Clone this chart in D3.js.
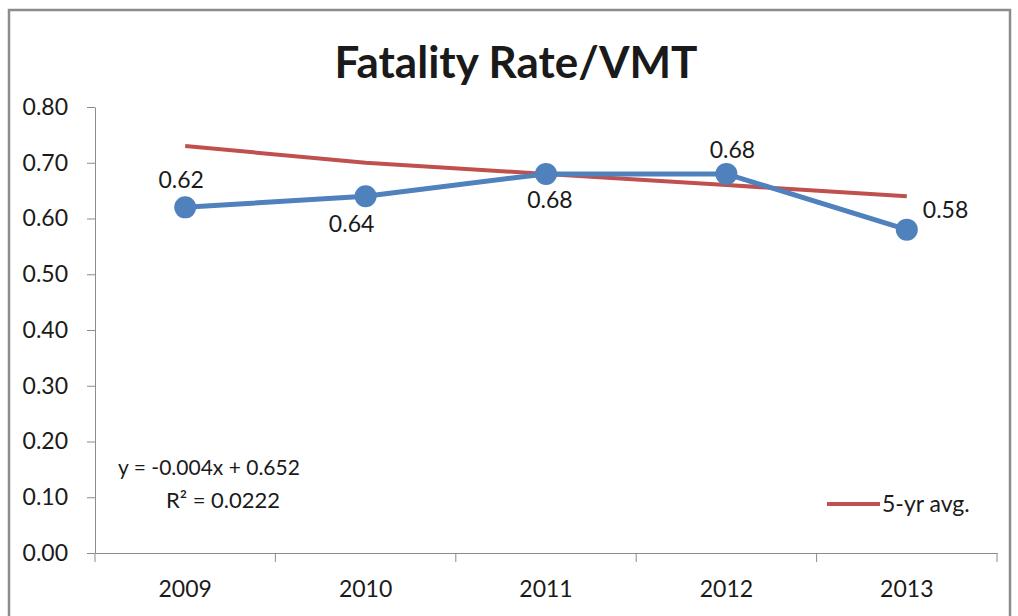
<!DOCTYPE html>
<html>
<head>
<meta charset="utf-8">
<script src="https://cdn.jsdelivr.net/npm/d3@7"></script>
<style>
  body { margin: 0; background: #fff; }
  svg text { font-family: Lato, "Open Sans", sans-serif; fill: #1a1a1a; }
</style>
</head>
<body>
<svg id="chart"></svg>
<script>
const years = ['2009', '2010', '2011', '2012', '2013']
const fatalityRate = [0.62, 0.64, 0.68, 0.68, 0.58]
const fiveYearAvg = [0.73, 0.70, 0.68, 0.66, 0.64]
const yTicks = [0, 0.1, 0.2, 0.3, 0.4, 0.5, 0.6, 0.7, 0.8]
// where each data label sits relative to its point
const labelPos = ['above', 'below', 'below', 'above', 'right']
const labelNudge = [[-4, -19], [-14, 36], [4, 34], [6, -16], [16, -12]]

const width = 1018
const height = 616
const margin = { top: 107, right: 21, bottom: 63, left: 95 }
const fontSize = '23px'

const svg = d3.select('#chart').attr('width', width).attr('height', height)

// outer chart border
svg.append('rect')
  .attr('x', 9).attr('y', 10)
  .attr('width', 1001).attr('height', 620)
  .attr('fill', 'none')
  .attr('stroke', '#8c8c8c')
  .attr('stroke-width', 2.5)

svg.append('text')
  .attr('x', 516).attr('y', 78)
  .attr('text-anchor', 'middle')
  .style('font-size', '44px')
  .style('font-weight', 'bold')
  .text('Fatality Rate/VMT')

const x = d3.scaleBand()
  .domain(years)
  .range([margin.left, width - margin.right])

const y = d3.scaleLinear()
  .domain([0, 0.8])
  .range([height - margin.bottom, margin.top])

const cx = d => x(d) + x.bandwidth() / 2

// Y axis
const yAxis = svg.append('g')
  .attr('transform', `translate(${margin.left},0)`)
  .call(d3.axisLeft(y).tickValues(yTicks).tickFormat(d3.format('.2f')).tickSize(8).tickSizeOuter(0))
yAxis.select('.domain').attr('stroke', '#8c8c8c')
yAxis.selectAll('.tick line').attr('stroke', '#8c8c8c')
yAxis.selectAll('.tick text')
  .attr('x', -27)
  .style('font-size', fontSize)
  .attr('fill', '#1a1a1a')

// X axis
const xAxis = svg.append('g')
  .attr('transform', `translate(0,${height - margin.bottom})`)
  .call(d3.axisBottom(x).tickSize(0).tickSizeOuter(0))
xAxis.select('.domain').attr('stroke', '#8c8c8c')
xAxis.selectAll('.tick text')
  .attr('y', 28)
  .style('font-size', fontSize)
  .attr('fill', '#1a1a1a')

// tick marks at category boundaries
const edges = years.map(d => x(d)).concat([width - margin.right])
svg.append('g')
  .selectAll('line')
  .data(edges)
  .enter().append('line')
  .attr('x1', d => d).attr('x2', d => d)
  .attr('y1', height - margin.bottom)
  .attr('y2', height - margin.bottom + 9)
  .attr('stroke', '#8c8c8c')

const line = d3.line()
  .x((d, i) => cx(years[i]))
  .y(d => y(d))

// 5-yr average
svg.append('path')
  .datum(fiveYearAvg)
  .attr('d', line)
  .attr('fill', 'none')
  .attr('stroke', '#c0504d')
  .attr('stroke-width', 4)

// fatality rate
svg.append('path')
  .datum(fatalityRate)
  .attr('d', line)
  .attr('fill', 'none')
  .attr('stroke', '#4f81bd')
  .attr('stroke-width', 5)

svg.append('g')
  .selectAll('circle')
  .data(fatalityRate)
  .enter().append('circle')
  .attr('cx', (d, i) => cx(years[i]))
  .attr('cy', d => y(d))
  .attr('r', 11)
  .attr('fill', '#4f81bd')

// data labels
svg.append('g')
  .selectAll('text')
  .data(fatalityRate)
  .enter().append('text')
  .attr('x', (d, i) => cx(years[i]) + labelNudge[i][0])
  .attr('y', (d, i) => y(d) + labelNudge[i][1])
  .attr('text-anchor', (d, i) => labelPos[i] === 'right' ? 'start' : 'middle')
  .style('font-size', fontSize)
  .text(d => d3.format('.2f')(d))

// trendline equation
svg.append('text')
  .attr('x', 209).attr('y', 475)
  .attr('text-anchor', 'middle')
  .style('font-size', '21px')
  .text('y = -0.004x + 0.652')
svg.append('text')
  .attr('x', 223).attr('y', 508)
  .attr('text-anchor', 'middle')
  .style('font-size', '22px')
  .text('R² = 0.0222')

// legend
svg.append('line')
  .attr('x1', 827).attr('x2', 880)
  .attr('y1', 504).attr('y2', 504)
  .attr('stroke', '#c0504d')
  .attr('stroke-width', 4)
svg.append('text')
  .attr('x', 882).attr('y', 512)
  .style('font-size', fontSize)
  .text('5-yr avg.')
</script>
</body>
</html>
